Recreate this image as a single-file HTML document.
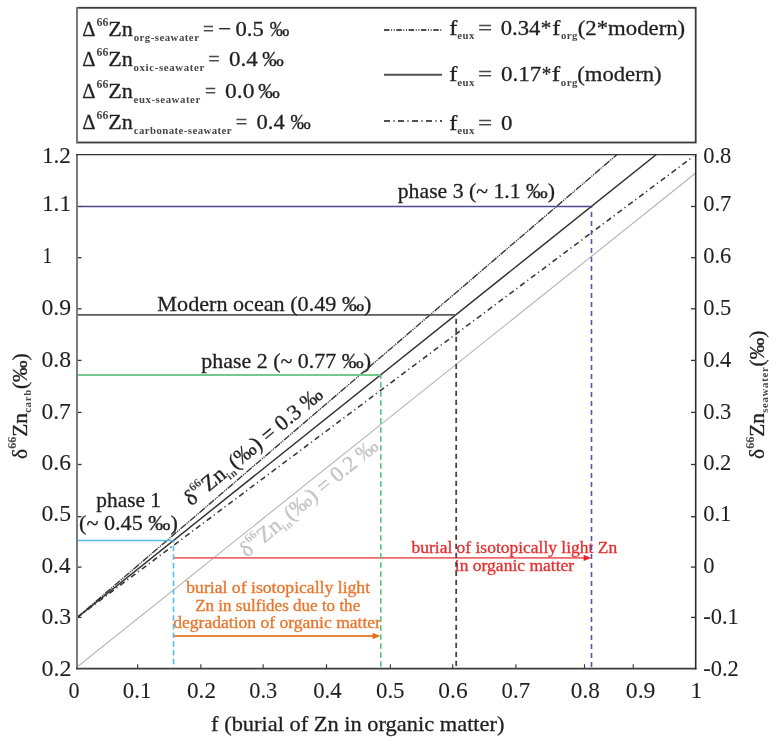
<!DOCTYPE html>
<html><head><meta charset="utf-8"><style>
html,body{margin:0;padding:0;background:#fff;}
svg{display:block;will-change:transform;}
text{font-family:"Liberation Serif",serif;}
</style></head><body>
<svg width="777" height="744" viewBox="0 0 777 744" fill="#231f20">
<defs><clipPath id="pc"><rect x="77" y="154.5" width="618.7" height="514"/></clipPath></defs>
<rect width="777" height="744" fill="#fff"/>
<rect x="77" y="7.8" width="618.7" height="134.7" fill="none" stroke="#3c3a3b" stroke-width="1.8"/>
<line x1="77" y1="7" x2="77" y2="143.3" stroke="#7a7a7a" stroke-width="2"/>
<text x="82.31" y="36.00" font-size="22" stroke="#231f20" stroke-width="0.3" textLength="13.26" lengthAdjust="spacingAndGlyphs">Δ</text>
<text x="96.59" y="25.70" font-size="12" font-weight="bold" fill="#474747" textLength="11.85" lengthAdjust="spacingAndGlyphs">66</text>
<text x="108.34" y="36.00" font-size="22" stroke="#231f20" stroke-width="0.3" textLength="24.59" lengthAdjust="spacingAndGlyphs">Zn</text>
<text x="133.64" y="40.60" font-size="10.8" font-weight="bold" fill="#474747" textLength="65.29" lengthAdjust="spacing">org-seawater</text>
<text x="202.94" y="36.00" font-size="22" fill="#4a4a4a" stroke="#4a4a4a" stroke-width="0.3" textLength="10.91" lengthAdjust="spacingAndGlyphs">=</text>
<text x="218.13" y="36.00" font-size="22" stroke="#231f20" stroke-width="0.3" textLength="13.21" lengthAdjust="spacingAndGlyphs">−</text>
<text x="235.54" y="36.00" font-size="22" stroke="#231f20" stroke-width="0.3" textLength="28.35" lengthAdjust="spacingAndGlyphs">0.5</text>
<text x="269.67" y="36.00" font-size="22" stroke="#231f20" stroke-width="0.3" textLength="19.58" lengthAdjust="spacingAndGlyphs">‰</text>
<text x="82.31" y="66.20" font-size="22" stroke="#231f20" stroke-width="0.3" textLength="13.26" lengthAdjust="spacingAndGlyphs">Δ</text>
<text x="96.59" y="55.90" font-size="12" font-weight="bold" fill="#474747" textLength="11.85" lengthAdjust="spacingAndGlyphs">66</text>
<text x="108.34" y="66.20" font-size="22" stroke="#231f20" stroke-width="0.3" textLength="24.59" lengthAdjust="spacingAndGlyphs">Zn</text>
<text x="133.49" y="70.80" font-size="10.8" font-weight="bold" fill="#474747" textLength="70.84" lengthAdjust="spacing">oxic-seawater</text>
<text x="208.28" y="66.20" font-size="22" fill="#4a4a4a" stroke="#4a4a4a" stroke-width="0.3" textLength="11.51" lengthAdjust="spacingAndGlyphs">=</text>
<text x="229.02" y="66.20" font-size="22" stroke="#231f20" stroke-width="0.3" textLength="28.73" lengthAdjust="spacingAndGlyphs">0.4</text>
<text x="262.13" y="66.20" font-size="22" stroke="#231f20" stroke-width="0.3" textLength="21.57" lengthAdjust="spacingAndGlyphs">‰</text>
<text x="82.31" y="98.20" font-size="22" stroke="#231f20" stroke-width="0.3" textLength="13.26" lengthAdjust="spacingAndGlyphs">Δ</text>
<text x="96.59" y="87.90" font-size="12" font-weight="bold" fill="#474747" textLength="11.85" lengthAdjust="spacingAndGlyphs">66</text>
<text x="108.34" y="98.20" font-size="22" stroke="#231f20" stroke-width="0.3" textLength="24.59" lengthAdjust="spacingAndGlyphs">Zn</text>
<text x="133.53" y="102.80" font-size="10.8" font-weight="bold" fill="#474747" textLength="66.70" lengthAdjust="spacing">eux-seawater</text>
<text x="204.93" y="98.20" font-size="22" fill="#4a4a4a" stroke="#4a4a4a" stroke-width="0.3" textLength="11.03" lengthAdjust="spacingAndGlyphs">=</text>
<text x="225.10" y="98.20" font-size="22" stroke="#231f20" stroke-width="0.3" textLength="29.39" lengthAdjust="spacingAndGlyphs">0.0</text>
<text x="258.23" y="98.20" font-size="22" stroke="#231f20" stroke-width="0.3" textLength="21.57" lengthAdjust="spacingAndGlyphs">‰</text>
<text x="82.31" y="129.20" font-size="22" stroke="#231f20" stroke-width="0.3" textLength="13.26" lengthAdjust="spacingAndGlyphs">Δ</text>
<text x="96.59" y="118.90" font-size="12" font-weight="bold" fill="#474747" textLength="11.85" lengthAdjust="spacingAndGlyphs">66</text>
<text x="108.34" y="129.20" font-size="22" stroke="#231f20" stroke-width="0.3" textLength="24.59" lengthAdjust="spacingAndGlyphs">Zn</text>
<text x="133.83" y="133.80" font-size="10.8" font-weight="bold" fill="#474747" textLength="97.70" lengthAdjust="spacing">carbonate-seawater</text>
<text x="235.78" y="129.20" font-size="22" fill="#4a4a4a" stroke="#4a4a4a" stroke-width="0.3" textLength="11.51" lengthAdjust="spacingAndGlyphs">=</text>
<text x="256.54" y="129.20" font-size="22" stroke="#231f20" stroke-width="0.3" textLength="28.21" lengthAdjust="spacingAndGlyphs">0.4</text>
<text x="290.46" y="129.20" font-size="22" stroke="#231f20" stroke-width="0.3" textLength="20.21" lengthAdjust="spacingAndGlyphs">‰</text>
<line x1="384" y1="30.0" x2="442" y2="30.0" stroke="#505050" stroke-width="1.8" stroke-dasharray="5.5 1.6 1 1.6 1 1.6"/>
<line x1="384" y1="74.8" x2="442" y2="74.8" stroke="#505050" stroke-width="1.9"/>
<line x1="384" y1="121.0" x2="442" y2="121.0" stroke="#505050" stroke-width="1.8" stroke-dasharray="6 3.4 1.2 3.4"/>
<text x="449.35" y="34.60" font-size="22" stroke="#231f20" stroke-width="0.3" textLength="8.15" lengthAdjust="spacingAndGlyphs">f</text>
<text x="457.23" y="39.10" font-size="10.8" font-weight="bold" fill="#474747" textLength="17.13" lengthAdjust="spacing">eux</text>
<text x="478.05" y="34.60" font-size="22" fill="#4a4a4a" stroke="#4a4a4a" stroke-width="0.3" textLength="14.18" lengthAdjust="spacingAndGlyphs">=</text>
<text x="449.35" y="81.00" font-size="22" stroke="#231f20" stroke-width="0.3" textLength="8.15" lengthAdjust="spacingAndGlyphs">f</text>
<text x="457.23" y="85.50" font-size="10.8" font-weight="bold" fill="#474747" textLength="17.13" lengthAdjust="spacing">eux</text>
<text x="478.05" y="81.00" font-size="22" fill="#4a4a4a" stroke="#4a4a4a" stroke-width="0.3" textLength="14.18" lengthAdjust="spacingAndGlyphs">=</text>
<text x="449.35" y="129.60" font-size="22" stroke="#231f20" stroke-width="0.3" textLength="8.15" lengthAdjust="spacingAndGlyphs">f</text>
<text x="457.23" y="134.10" font-size="10.8" font-weight="bold" fill="#474747" textLength="17.13" lengthAdjust="spacing">eux</text>
<text x="478.05" y="129.60" font-size="22" fill="#4a4a4a" stroke="#4a4a4a" stroke-width="0.3" textLength="14.18" lengthAdjust="spacingAndGlyphs">=</text>
<text x="500.74" y="34.60" font-size="22" stroke="#231f20" stroke-width="0.3" textLength="39.62" lengthAdjust="spacingAndGlyphs">0.34</text>
<text x="540.77" y="34.60" font-size="22" stroke="#231f20" stroke-width="0.3" textLength="10.54" lengthAdjust="spacingAndGlyphs">*</text>
<text x="552.15" y="34.60" font-size="22" stroke="#231f20" stroke-width="0.3" textLength="8.15" lengthAdjust="spacingAndGlyphs">f</text>
<text x="560.99" y="39.10" font-size="10.8" font-weight="bold" fill="#474747" textLength="16.52" lengthAdjust="spacing">org</text>
<text x="577.70" y="34.60" font-size="22" stroke="#231f20" stroke-width="0.3" textLength="107.50" lengthAdjust="spacingAndGlyphs">(2*modern)</text>
<text x="500.92" y="81.00" font-size="22" stroke="#231f20" stroke-width="0.3" textLength="40.24" lengthAdjust="spacingAndGlyphs">0.17</text>
<text x="541.67" y="81.00" font-size="22" stroke="#231f20" stroke-width="0.3" textLength="9.55" lengthAdjust="spacingAndGlyphs">*</text>
<text x="551.82" y="81.00" font-size="22" stroke="#231f20" stroke-width="0.3" textLength="8.48" lengthAdjust="spacingAndGlyphs">f</text>
<text x="560.79" y="85.50" font-size="10.8" font-weight="bold" fill="#474747" textLength="16.52" lengthAdjust="spacing">org</text>
<text x="577.30" y="81.00" font-size="22" stroke="#231f20" stroke-width="0.3" textLength="84.29" lengthAdjust="spacingAndGlyphs">(modern)</text>
<text x="500.93" y="129.60" font-size="22" stroke="#231f20" stroke-width="0.3" textLength="11.44" lengthAdjust="spacingAndGlyphs">0</text>
<g clip-path="url(#pc)">
<line x1="77" y1="667.0" x2="695.5" y2="173.3" stroke="#b4b4b4" stroke-width="1.1"/>
<line x1="77" y1="617.6" x2="617.1" y2="154.5" stroke="#3a3a3a" stroke-width="1.4" stroke-dasharray="7 1 1.2 1 1.2 1"/>
<line x1="77" y1="617.6" x2="656.4" y2="154.5" stroke="#333333" stroke-width="1.5"/>
<line x1="77" y1="617.6" x2="693.4" y2="156.4" stroke="#3a3a3a" stroke-width="1.6" stroke-dasharray="5.5 3.3 1.2 3.5"/>
</g>
<line x1="81" y1="206.5" x2="591.3" y2="206.5" stroke="#4e4a92" stroke-width="1.6"/>
<line x1="78" y1="314.9" x2="456.0" y2="314.9" stroke="#5e5a5a" stroke-width="1.8"/>
<line x1="78" y1="375.0" x2="380.6" y2="375.0" stroke="#74c98c" stroke-width="1.8"/>
<line x1="78" y1="540.4" x2="173.0" y2="540.4" stroke="#55bde8" stroke-width="1.5"/>
<line x1="173.6" y1="557.9" x2="585" y2="557.9" stroke="#ee6a6a" stroke-width="1.7"/>
<path d="M591.2,557.9 L583.6,554.8 L583.6,561.0 Z" fill="#e42228"/>
<line x1="174" y1="636.0" x2="374" y2="636.0" stroke="#e8843c" stroke-width="1.9"/>
<path d="M380.3,636.0 L372.6,632.8 L372.6,639.3 Z" fill="#e4701c"/>
<line x1="77" y1="154" x2="77" y2="669.3" stroke="#7d7d7d" stroke-width="2"/>
<line x1="76" y1="154.7" x2="696.5" y2="154.7" stroke="#333" stroke-width="1.3"/>
<line x1="76" y1="668.6" x2="696.5" y2="668.6" stroke="#3e3a3a" stroke-width="1.7"/>
<line x1="695.7" y1="154" x2="695.7" y2="669.3" stroke="#2e2b2c" stroke-width="1.6"/>
<line x1="137.7" y1="664.2" x2="137.7" y2="668" stroke="#333" stroke-width="1.1"/>
<line x1="200.9" y1="664.2" x2="200.9" y2="668" stroke="#333" stroke-width="1.1"/>
<line x1="263.1" y1="664.2" x2="263.1" y2="668" stroke="#333" stroke-width="1.1"/>
<line x1="326.5" y1="664.2" x2="326.5" y2="668" stroke="#333" stroke-width="1.1"/>
<line x1="390.3" y1="664.2" x2="390.3" y2="668" stroke="#333" stroke-width="1.1"/>
<line x1="452.7" y1="664.2" x2="452.7" y2="668" stroke="#333" stroke-width="1.1"/>
<line x1="515.9" y1="664.2" x2="515.9" y2="668" stroke="#333" stroke-width="1.1"/>
<line x1="584.5" y1="664.2" x2="584.5" y2="668" stroke="#333" stroke-width="1.1"/>
<line x1="633.2" y1="664.2" x2="633.2" y2="668" stroke="#333" stroke-width="1.1"/>
<line x1="78" y1="206.5" x2="81.5" y2="206.5" stroke="#333" stroke-width="1.3"/>
<line x1="691" y1="206.5" x2="695" y2="206.5" stroke="#333" stroke-width="1.3"/>
<line x1="78" y1="257.7" x2="81.5" y2="257.7" stroke="#333" stroke-width="1.3"/>
<line x1="691" y1="257.7" x2="695" y2="257.7" stroke="#333" stroke-width="1.3"/>
<line x1="78" y1="308.8" x2="81.5" y2="308.8" stroke="#333" stroke-width="1.3"/>
<line x1="691" y1="308.8" x2="695" y2="308.8" stroke="#333" stroke-width="1.3"/>
<line x1="78" y1="360.4" x2="81.5" y2="360.4" stroke="#333" stroke-width="1.3"/>
<line x1="691" y1="360.4" x2="695" y2="360.4" stroke="#333" stroke-width="1.3"/>
<line x1="78" y1="412.4" x2="81.5" y2="412.4" stroke="#333" stroke-width="1.3"/>
<line x1="691" y1="412.4" x2="695" y2="412.4" stroke="#333" stroke-width="1.3"/>
<line x1="78" y1="464.5" x2="81.5" y2="464.5" stroke="#333" stroke-width="1.3"/>
<line x1="691" y1="464.5" x2="695" y2="464.5" stroke="#333" stroke-width="1.3"/>
<line x1="78" y1="516.7" x2="81.5" y2="516.7" stroke="#333" stroke-width="1.3"/>
<line x1="691" y1="516.7" x2="695" y2="516.7" stroke="#333" stroke-width="1.3"/>
<line x1="78" y1="567.1" x2="81.5" y2="567.1" stroke="#333" stroke-width="1.3"/>
<line x1="691" y1="567.1" x2="695" y2="567.1" stroke="#333" stroke-width="1.3"/>
<line x1="78" y1="617.4" x2="81.5" y2="617.4" stroke="#333" stroke-width="1.3"/>
<line x1="691" y1="617.4" x2="695" y2="617.4" stroke="#333" stroke-width="1.3"/>
<text x="68.56" y="697.70" font-size="22.5" stroke="#231f20" stroke-width="0.1" textLength="11.09" lengthAdjust="spacingAndGlyphs">0</text>
<text x="122.83" y="697.70" font-size="22.5" stroke="#231f20" stroke-width="0.1" textLength="28.43" lengthAdjust="spacingAndGlyphs">0.1</text>
<text x="187.02" y="697.70" font-size="22.5" stroke="#231f20" stroke-width="0.1" textLength="28.96" lengthAdjust="spacingAndGlyphs">0.2</text>
<text x="249.35" y="697.70" font-size="22.5" stroke="#231f20" stroke-width="0.1" textLength="27.92" lengthAdjust="spacingAndGlyphs">0.3</text>
<text x="313.23" y="697.70" font-size="22.5" stroke="#231f20" stroke-width="0.1" textLength="28.42" lengthAdjust="spacingAndGlyphs">0.4</text>
<text x="375.93" y="697.70" font-size="22.5" stroke="#231f20" stroke-width="0.1" textLength="28.67" lengthAdjust="spacingAndGlyphs">0.5</text>
<text x="438.30" y="697.70" font-size="22.5" stroke="#231f20" stroke-width="0.1" textLength="29.40" lengthAdjust="spacingAndGlyphs">0.6</text>
<text x="501.63" y="697.70" font-size="22.5" stroke="#231f20" stroke-width="0.1" textLength="28.42" lengthAdjust="spacingAndGlyphs">0.7</text>
<text x="570.82" y="697.70" font-size="22.5" stroke="#231f20" stroke-width="0.1" textLength="28.97" lengthAdjust="spacingAndGlyphs">0.8</text>
<text x="625.80" y="697.70" font-size="22.5" stroke="#231f20" stroke-width="0.1" textLength="29.68" lengthAdjust="spacingAndGlyphs">0.9</text>
<text x="690.43" y="697.70" font-size="22.5" stroke="#231f20" stroke-width="0.1" textLength="11.79" lengthAdjust="spacingAndGlyphs">1</text>
<text x="41.96" y="162.50" font-size="22.5" stroke="#231f20" stroke-width="0.1" textLength="29.02" lengthAdjust="spacingAndGlyphs">1.2</text>
<text x="41.95" y="210.70" font-size="22.5" stroke="#231f20" stroke-width="0.1" textLength="29.15" lengthAdjust="spacingAndGlyphs">1.1</text>
<text x="42.40" y="263.00" font-size="22.5" stroke="#231f20" stroke-width="0.1" textLength="9.66" lengthAdjust="spacingAndGlyphs">1</text>
<text x="41.50" y="315.20" font-size="22.5" stroke="#231f20" stroke-width="0.1" textLength="29.68" lengthAdjust="spacingAndGlyphs">0.9</text>
<text x="41.50" y="366.80" font-size="22.5" stroke="#231f20" stroke-width="0.1" textLength="29.60" lengthAdjust="spacingAndGlyphs">0.8</text>
<text x="41.51" y="418.80" font-size="22.5" stroke="#231f20" stroke-width="0.1" textLength="29.37" lengthAdjust="spacingAndGlyphs">0.7</text>
<text x="41.50" y="470.10" font-size="22.5" stroke="#231f20" stroke-width="0.1" textLength="29.40" lengthAdjust="spacingAndGlyphs">0.6</text>
<text x="41.50" y="520.80" font-size="22.5" stroke="#231f20" stroke-width="0.1" textLength="29.63" lengthAdjust="spacingAndGlyphs">0.5</text>
<text x="41.51" y="572.70" font-size="22.5" stroke="#231f20" stroke-width="0.1" textLength="29.05" lengthAdjust="spacingAndGlyphs">0.4</text>
<text x="41.50" y="623.80" font-size="22.5" stroke="#231f20" stroke-width="0.1" textLength="29.63" lengthAdjust="spacingAndGlyphs">0.3</text>
<text x="41.48" y="676.00" font-size="22.5" stroke="#231f20" stroke-width="0.1" textLength="30.04" lengthAdjust="spacingAndGlyphs">0.2</text>
<text x="703.14" y="162.50" font-size="22.5" stroke="#231f20" stroke-width="0.1">0.8</text>
<text x="703.14" y="210.70" font-size="22.5" stroke="#231f20" stroke-width="0.1">0.7</text>
<text x="703.14" y="263.00" font-size="22.5" stroke="#231f20" stroke-width="0.1">0.6</text>
<text x="703.14" y="315.20" font-size="22.5" stroke="#231f20" stroke-width="0.1">0.5</text>
<text x="703.14" y="366.80" font-size="22.5" stroke="#231f20" stroke-width="0.1">0.4</text>
<text x="703.14" y="418.80" font-size="22.5" stroke="#231f20" stroke-width="0.1">0.3</text>
<text x="703.14" y="470.10" font-size="22.5" stroke="#231f20" stroke-width="0.1">0.2</text>
<text x="703.14" y="520.80" font-size="22.5" stroke="#231f20" stroke-width="0.1">0.1</text>
<text x="703.14" y="572.70" font-size="22.5" stroke="#231f20" stroke-width="0.1">0</text>
<text x="703.17" y="623.80" font-size="22.5" stroke="#231f20" stroke-width="0.1">-0.1</text>
<text x="703.17" y="676.00" font-size="22.5" stroke="#231f20" stroke-width="0.1">-0.2</text>
<text x="211.11" y="731.40" font-size="22" stroke="#231f20" stroke-width="0.3" textLength="293.37" lengthAdjust="spacingAndGlyphs">f (burial of Zn in organic matter)</text>
<text x="397.75" y="198.20" font-size="22" stroke="#231f20" stroke-width="0.3" textLength="157.21" lengthAdjust="spacingAndGlyphs">phase 3 (~ 1.1 ‰)</text>
<text x="157.36" y="310.60" font-size="22" stroke="#231f20" stroke-width="0.3" textLength="214.11" lengthAdjust="spacingAndGlyphs">Modern ocean (0.49 ‰)</text>
<text x="201.35" y="367.70" font-size="22" stroke="#231f20" stroke-width="0.3" textLength="169.62" lengthAdjust="spacingAndGlyphs">phase 2 (~ 0.77 ‰)</text>
<text x="96.36" y="506.80" font-size="22" stroke="#231f20" stroke-width="0.3" textLength="64.63" lengthAdjust="spacingAndGlyphs">phase 1</text>
<text x="79.02" y="529.70" font-size="22" stroke="#231f20" stroke-width="0.3" textLength="98.95" lengthAdjust="spacingAndGlyphs">(~ 0.45 ‰)</text>
<text x="411.50" y="553.00" font-size="15.7" fill="#e43030" stroke="#e43030" stroke-width="0.3" textLength="205.66" lengthAdjust="spacingAndGlyphs">burial of isotopically light Zn</text>
<text x="454.83" y="570.80" font-size="15.7" fill="#e43030" stroke="#e43030" stroke-width="0.3" textLength="119.32" lengthAdjust="spacingAndGlyphs">in organic matter</text>
<text x="186.30" y="592.70" font-size="15.7" fill="#e8762c" stroke="#e8762c" stroke-width="0.3" textLength="183.80" lengthAdjust="spacingAndGlyphs">burial of isotopically light</text>
<text x="195.19" y="610.60" font-size="15.7" fill="#e8762c" stroke="#e8762c" stroke-width="0.3" textLength="165.00" lengthAdjust="spacingAndGlyphs">Zn in sulfides due to the</text>
<text x="173.27" y="627.80" font-size="15.7" fill="#e8762c" stroke="#e8762c" stroke-width="0.3" textLength="207.69" lengthAdjust="spacingAndGlyphs">degradation of organic matter</text>
<line x1="591.5" y1="206.5" x2="591.5" y2="668" stroke="#5652aa" stroke-width="1.6" stroke-dasharray="5.2 3.8" stroke-dashoffset="3.6"/>
<line x1="456.2" y1="315.0" x2="456.2" y2="668" stroke="#4a4545" stroke-width="1.8" stroke-dasharray="5.2 3.8" stroke-dashoffset="5.2"/>
<line x1="380.8" y1="375.0" x2="380.8" y2="668" stroke="#5cc07a" stroke-width="1.6" stroke-dasharray="5.4 3.6" stroke-dashoffset="1.7"/>
<line x1="173.5" y1="540.4" x2="173.5" y2="668" stroke="#55bde8" stroke-width="1.6" stroke-dasharray="5.5 3.2" stroke-dashoffset="3.5"/>
<g transform="translate(26.5,458.9) rotate(-90)" stroke="#231f20" stroke-width="0.3"><text x="0" y="0" font-size="21.5">δ<tspan font-size="12" font-weight="bold" stroke-width="0" fill="#474747" dy="-10.3">66</tspan><tspan dy="10.3">Zn</tspan><tspan font-size="10.8" font-weight="bold" stroke-width="0" fill="#474747" letter-spacing="0.7" dy="4.6">carb</tspan><tspan dy="-4.6">(‰)</tspan></text></g>
<g transform="translate(763.8,458.9) rotate(-90)" stroke="#231f20" stroke-width="0.3"><text x="0" y="0" font-size="21.5">δ<tspan font-size="12" font-weight="bold" stroke-width="0" fill="#474747" dy="-10.3">66</tspan><tspan dy="10.3">Zn</tspan><tspan font-size="10.8" font-weight="bold" stroke-width="0" fill="#474747" letter-spacing="0.7" dy="4.6">seawater</tspan><tspan dy="-4.6">(‰)</tspan></text></g>
<g transform="translate(191.3,506.4) rotate(-39.5)" stroke="#231f20" stroke-width="0.3"><text x="0" y="0" font-size="22">δ<tspan font-size="12" font-weight="bold" stroke-width="0" fill="#474747" dy="-10.3">66</tspan><tspan dy="10.3">Zn</tspan><tspan font-size="10.8" font-weight="bold" stroke-width="0" fill="#474747" letter-spacing="0.7" dy="4.6">in</tspan><tspan dy="-4.6">(‰) = 0.3 ‰</tspan></text></g>
<g transform="translate(246.8,557.9) rotate(-39.5)" fill="#c4c4c4" stroke="#c4c4c4" stroke-width="0.3"><text x="0" y="0" font-size="22">δ<tspan font-size="12" font-weight="bold" stroke-width="0" fill="#c4c4c4" dy="-10.3">66</tspan><tspan dy="10.3">Zn</tspan><tspan font-size="10.8" font-weight="bold" stroke-width="0" fill="#c4c4c4" letter-spacing="0.7" dy="4.6">in</tspan><tspan dy="-4.6">(‰) = 0.2 ‰</tspan></text></g>
</svg>
</body></html>
